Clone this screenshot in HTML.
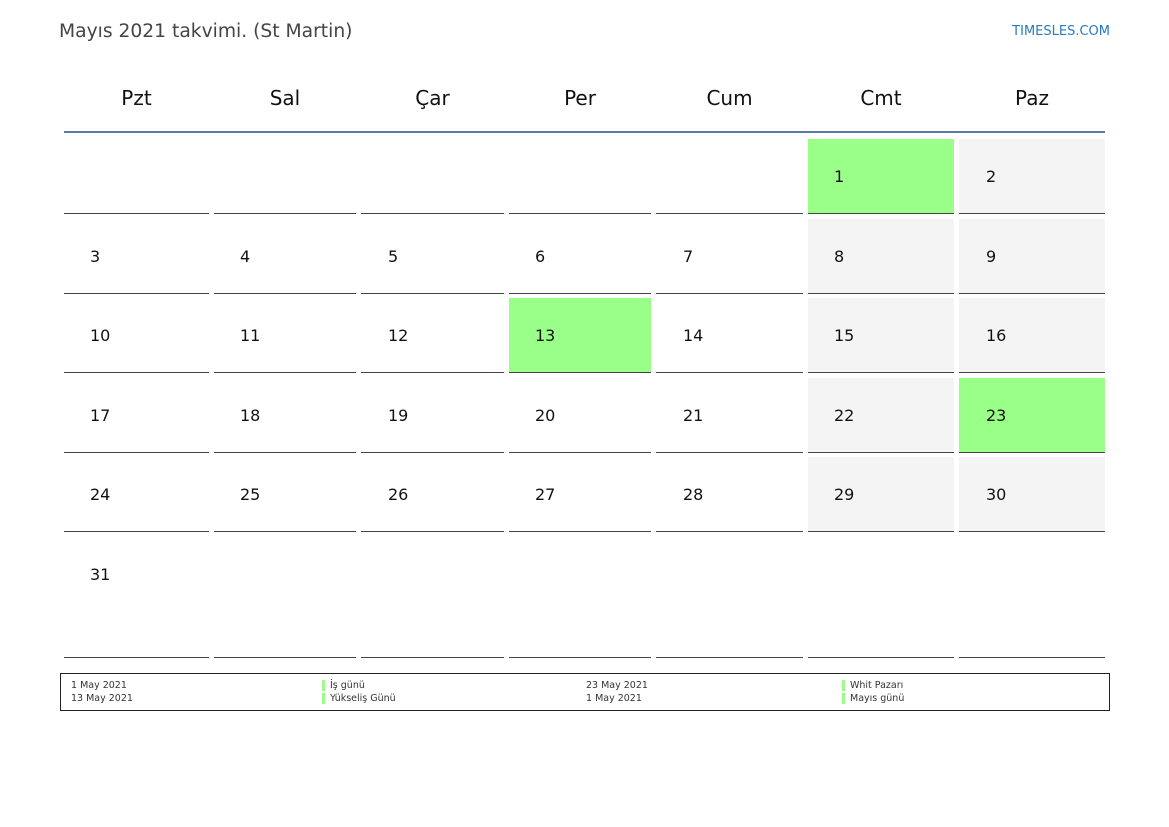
<!DOCTYPE html>
<html><head><meta charset="utf-8"><style>
body{margin:0;width:1169px;height:827px;background:#fff;position:relative;font-family:"DejaVu Sans","Liberation Sans",sans-serif;overflow:hidden}
.a{position:absolute;white-space:nowrap}
.h{font-size:20px;color:#111;text-align:center;top:86px}
.n{font-size:16px;color:#111}
.c{position:absolute}
.l{position:absolute;height:1px;background:#444}
.s{font-size:9.5px;color:#333}
.b{position:absolute;width:3px;height:11px;background:#99ff88}
</style></head><body>
<div class="a" style="left:59px;top:21px;font-size:18.7px;color:#444">Mayıs 2021 takvimi. (St Martin)</div>
<div class="a" style="right:59px;top:24px;font-size:13px;color:#2a7ac0">TIMESLES.COM</div>
<div class="a h" style="left:64px;width:145px">Pzt</div>
<div class="a h" style="left:214px;width:142px">Sal</div>
<div class="a h" style="left:361px;width:143px">Çar</div>
<div class="a h" style="left:509px;width:142px">Per</div>
<div class="a h" style="left:656px;width:147px">Cum</div>
<div class="a h" style="left:808px;width:146px">Cmt</div>
<div class="a h" style="left:959px;width:146px">Paz</div>
<div class="c" style="left:64px;top:131px;width:1041px;height:2px;background:#5a7aa6"></div>
<div id="g"></div>
<div class="c" style="left:60px;top:673px;width:1048px;height:36px;border:1px solid #222"></div>
<div class="a s" style="left:71px;top:680px">1 May 2021</div>
<div class="a s" style="left:71px;top:693px">13 May 2021</div>
<div class="b" style="left:322px;top:680px"></div><div class="a s" style="left:330px;top:680px">İş günü</div>
<div class="b" style="left:322px;top:693px"></div><div class="a s" style="left:330px;top:693px">Yükseliş Günü</div>
<div class="a s" style="left:586px;top:680px">23 May 2021</div>
<div class="a s" style="left:586px;top:693px">1 May 2021</div>
<div class="b" style="left:842px;top:680px"></div><div class="a s" style="left:850px;top:680px">Whit Pazarı</div>
<div class="b" style="left:842px;top:693px"></div><div class="a s" style="left:850px;top:693px">Mayıs günü</div>
<script>
var cx=[64,214,361,509,656,808,959],cw=[145,142,143,142,147,146,146],tx=[90,240,388,535,683,834,986];
var rt=[139,219,298,378,457,537],rb=[213,293,372,452,531,657];
var green={1:1,13:1,23:1};var h='';
for(var r=0;r<6;r++){for(var c=0;c<7;c++){
 h+='<div class="l" style="left:'+cx[c]+'px;width:'+cw[c]+'px;top:'+rb[r]+'px"></div>';
 var d=r*7+c-4; if(d<1||d>31)continue;
 var bg=green[d]?'#99ff88':(c>=5?'#f4f4f4':'');
 if(bg)h+='<div class="c" style="left:'+cx[c]+'px;width:'+cw[c]+'px;top:'+rt[r]+'px;height:'+(rb[r]-rt[r])+'px;background:'+bg+'"></div>';
 h+='<div class="a n" style="left:'+tx[c]+'px;top:'+(rt[r]+28)+'px">'+d+'</div>';
}}
document.getElementById('g').innerHTML=h;
</script>
</body></html>
